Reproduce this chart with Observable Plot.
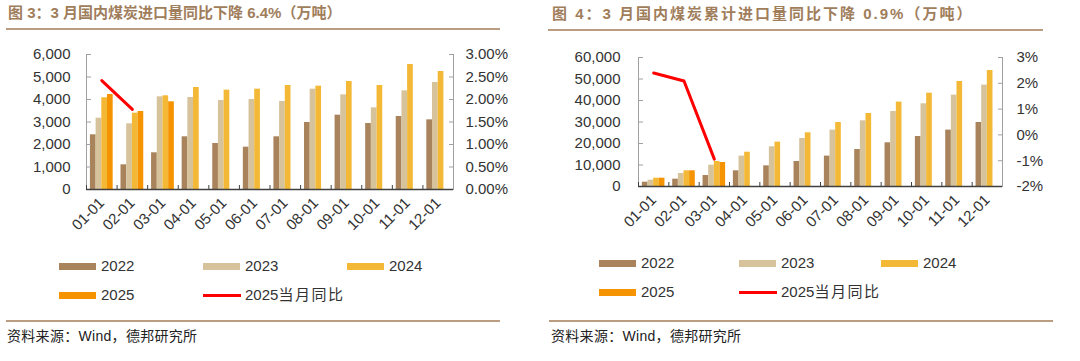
<!DOCTYPE html>
<html><head><meta charset="utf-8">
<script src="https://cdn.jsdelivr.net/npm/d3@7"></script>
<script src="https://cdn.jsdelivr.net/npm/@observablehq/plot@0.6"></script>
<style>
body{margin:0;background:#fff;width:1080px;height:361px;overflow:hidden;font-family:"Liberation Sans",Arial,"Noto Sans CJK SC",sans-serif;}
.panel{position:absolute;top:0;width:540px;height:361px;}
.title{position:absolute;font-weight:bold;font-size:15px;line-height:20px;color:#a07d5b;white-space:nowrap;font-family:"Liberation Sans","Noto Sans CJK SC",sans-serif;}
.rule{position:absolute;height:2px;background:#bb9e82;}
.src{position:absolute;font-size:14px;line-height:20px;color:#222;white-space:nowrap;letter-spacing:0.3px;font-family:"Liberation Sans","Noto Sans CJK SC",sans-serif;}
.lab{position:absolute;font-size:15px;line-height:18px;color:#333;white-space:nowrap;font-family:"Liberation Sans","Noto Sans CJK SC",sans-serif;}
.lab .cjk{letter-spacing:1.5px;}
.sw{position:absolute;height:7px;width:37px;}
.ln{position:absolute;height:3px;width:38px;background:#ff0000;}
.panel svg{position:absolute;left:0;top:36px;}
</style></head><body>
<div id="p1" class="panel" style="left:0"></div>
<div id="p2" class="panel" style="left:540px"></div>
<script>
// ---- data ----
const months = ["01-01","02-01","03-01","04-01","05-01","06-01","07-01","08-01","09-01","10-01","11-01","12-01"];
const years = ["2022","2023","2024","2025"];
const colors = ["#a8835b","#d6c39b","#f3b835","#f59300"];
const lineName = "2025当月同比";

// 图3: 当月进口量 (万吨)
const monthly2022 = [2431, 1098, 1631, 2342, 2044, 1881, 2342, 2978, 3303, 2933, 3244, 3096];
const monthly2023 = [3169, 2920, 4120, 4089, 3956, 4000, 3911, 4459, 4207, 3630, 4385, 4756];
const monthly2024 = [4076, 3391, 4164, 4533, 4415, 4459, 4622, 4593, 4800, 4622, 5556, 5244];
const monthly2025 = [4222, 3467, 3898];
const monthlyYoY2025 = [2.42, 1.78]; // %

// 图4: 累计进口量 (万吨)
const cum2022 = [2000, 3400, 5100, 7300, 9600, 11630, 14140, 17210, 20330, 23260, 26230, 29770];
const cum2023 = [2930, 6050, 9900, 14140, 18470, 22330, 26230, 30560, 34880, 38470, 42500, 47160];
const cum2024 = [3860, 7300, 11630, 15950, 20650, 24980, 29770, 33950, 39260, 43400, 48840, 53950];
const cum2025 = [3860, 7300, 11160];
const cumYoY2025 = [2.40, 2.09, -0.94]; // %

const leftTicks1 = [0,1000,2000,3000,4000,5000,6000];
const rightTicks1 = [0,0.5,1,1.5,2,2.5,3];
const leftTicks2 = [0,10000,20000,30000,40000,50000,60000];
const rightTicks2 = [-2,-1,0,1,2,3];

function chart(o){
  const bw = (o.width - o.ml - o.mr) / months.length;
  const barW = bw * 0.186;
  const pad = (bw - 4*barW) / 2;
  const marks = [];
  o.series.forEach((vals,k)=>{
    const data = vals.map((v,i)=>({month:months[i], value:v}));
    marks.push(Plot.barY(data,{x:"month",y:"value",fill:colors[k],
      insetLeft: pad + k*barW, insetRight: bw - pad - (k+1)*barW}));
  });
  const fmtL = d3.format(",");
  marks.push(
    Plot.axisY(o.leftTicks,{anchor:"left",tickSize:0,tickPadding:o.lp,tickFormat:fmtL,fontSize:15,color:"#333",label:null}),
    Plot.axisY(o.leftTicks,{anchor:"left",tickSize:5,dx:5,fill:"none",stroke:"#a0a0a0",label:null}),
    Plot.axisY(o.rightTicks.map(o.toLeft),{anchor:"right",tickSize:0,tickPadding:o.rp,tickFormat:v=>o.fmtR(o.fromLeft(v)),fontSize:15,color:"#333",label:null}),
    Plot.axisY(o.rightTicks.map(o.toLeft),{anchor:"right",tickSize:5,dx:-5,fill:"none",stroke:"#a0a0a0",label:null}),
    Plot.frame({anchor:"left",stroke:"#a0a0a0"}),
    Plot.frame({anchor:"right",stroke:"#a0a0a0"}),
    Plot.axisX({tickSize:4,dx:-bw/2,dy:-4,fill:"none",stroke:"#404040",label:null}),
    Plot.axisX({tickSize:0,tickPadding:o.xp,tickRotate:-45,fontSize:15,color:"#333",label:null}),
    Plot.ruleY([0],{stroke:"#404040",strokeWidth:1.3})
  );
  const lineData = o.line.map((p,i)=>({month:months[i], y:o.toLeft(p)}));
  marks.push(Plot.line(lineData,{x:"month",y:"y",stroke:"#ff0000",strokeWidth:3}));
  return Plot.plot({
    width:o.width, height:o.height,
    marginLeft:o.ml, marginRight:o.mr, marginTop:o.mt, marginBottom:o.mb,
    x:{type:"band",domain:months,padding:0,round:false,label:null},
    y:{domain:o.yDomain,label:null},
    style:{fontFamily:"Liberation Sans, Arial, sans-serif",fontSize:"15px",color:"#333",background:"transparent"},
    marks
  });
}

function legend(el, pos){
  const items = years.map((y,k)=>({name:y,color:colors[k],type:"bar"})).concat([{name:lineName,type:"line"}]);
  items.forEach((it,i)=>{
    const p = pos[i];
    const s=document.createElement("div");
    if(it.type==="bar"){
      s.className="sw";s.style.left=p[0]+"px";s.style.top=(p[1]-3.5)+"px";s.style.background=it.color;
    } else {
      s.className="ln";s.style.left=p[0]+"px";s.style.top=(p[1]-1.5)+"px";
    }
    el.appendChild(s);
    const t=document.createElement("div");t.className="lab";
    const m = it.name.match(/^(\d+)(.*)$/);
    t.appendChild(document.createTextNode(m[1]));
    if(m[2]){const c=document.createElement("span");c.className="cjk";c.textContent=m[2];t.appendChild(c);}
    t.style.left=(p[0]+42)+"px";t.style.top=(p[1]-9)+"px";el.appendChild(t);
  });
}

function panel(el, cfg){
  const t=document.createElement("div");t.className="title";t.textContent=cfg.title;t.style.left=cfg.tx+"px";t.style.top=cfg.ty+"px";t.style.letterSpacing=cfg.ls+"px";el.appendChild(t);
  const r=document.createElement("div");r.className="rule";Object.assign(r.style,cfg.rule1);el.appendChild(r);
  el.appendChild(chart(cfg.chart));
  legend(el,cfg.legend);
  const r2=document.createElement("div");r2.className="rule";Object.assign(r2.style,cfg.rule2);el.appendChild(r2);
  const s=document.createElement("div");s.className="src";s.textContent="资料来源：Wind，德邦研究所";s.style.left=cfg.sx+"px";s.style.top="326px";el.appendChild(s);
}

panel(document.getElementById("p1"),{
  title:"图 3：3 月国内煤炭进口量同比下降 6.4%（万吨）", tx:8, ty:3, ls:0,
  rule1:{left:"6px",top:"28px",width:"494px"},
  rule2:{left:"6px",top:"320px",width:"494px"},
  sx:7,
  legend:[[59,266],[203,266],[347,266],[59,295],[203,295]],
  chart:{width:540,height:210,ml:86,mr:87,mt:18,mb:57,lp:16,rp:12,xp:11,
    series:[monthly2022,monthly2023,monthly2024,monthly2025],
    yDomain:[0,6000], leftTicks:leftTicks1, rightTicks:rightTicks1,
    toLeft:p=>p*2000, fromLeft:v=>v/2000, fmtR:p=>p.toFixed(2)+"%",
    line:monthlyYoY2025}
});
panel(document.getElementById("p2"),{
  title:"图 4：3 月国内煤炭累计进口量同比下降 0.9%（万吨）", tx:12, ty:4, ls:2,
  rule1:{left:"8px",top:"29px",width:"495px"},
  rule2:{left:"9px",top:"320px",width:"504px"},
  sx:11,
  legend:[[59,263],[199,263],[341,263],[59,292],[199,292]],
  chart:{width:540,height:210,ml:98,mr:78,mt:21,mb:60,lp:18,rp:14,xp:11,
    series:[cum2022,cum2023,cum2024,cum2025],
    yDomain:[0,60000], leftTicks:leftTicks2, rightTicks:rightTicks2,
    toLeft:p=>(p+2)*12000, fromLeft:v=>v/12000-2, fmtR:p=>Math.round(p)+"%",
    line:cumYoY2025}
});
</script>
</body></html>
